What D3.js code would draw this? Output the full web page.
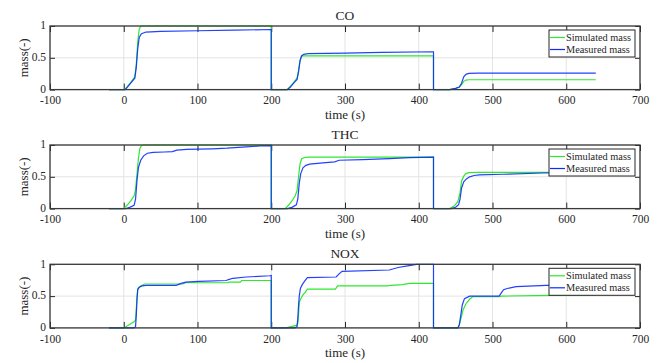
<!DOCTYPE html>
<html><head><meta charset="utf-8">
<script src="https://cdn.jsdelivr.net/npm/d3@7"></script>
<style>body{margin:0;background:#fff}svg{display:block}</style>
</head><body><svg id="c" width="660" height="363"></svg>
<script>
const titles = ["CO", "THC", "NOX"];
const seriesNames = ["Simulated mass", "Measured mass"];
const xTicks = [-100, 0, 100, 200, 300, 400, 500, 600, 700];
const yTicks = [0, 0.5, 1];
const xLabel = "time (s)";
const yLabel = "mass(-)";

const coSimulated = [[-20,0],[1,0],[5,0.05],[10,0.12],[15,0.2],[17,0.4],[19,0.75],[21,0.95],[23,0.995],[25,1],[200,1],[200,0],[221,0],[226,0.05],[231,0.12],[235,0.18],[237,0.3],[239,0.45],[241,0.52],[243,0.53],[420,0.53],[420,0],[442,0],[450,0.02],[455,0.04],[458,0.08],[461,0.13],[464,0.15],[468,0.155],[640,0.155]];
const coMeasured = [[-20,0],[2,0],[5,0.04],[10,0.11],[15,0.18],[17,0.35],[19,0.65],[21,0.82],[24,0.88],[30,0.905],[50,0.915],[100,0.925],[150,0.935],[200,0.945],[200,0],[222,0],[226,0.04],[231,0.11],[235,0.16],[237,0.28],[239,0.45],[241,0.53],[244,0.555],[250,0.565],[300,0.575],[350,0.585],[420,0.595],[420,0],[442,0],[450,0.02],[455,0.04],[458,0.1],[461,0.2],[464,0.24],[468,0.255],[480,0.26],[640,0.26]];
const thcSimulated = [[-20,0],[0,0],[5,0.06],[10,0.13],[14,0.2],[16,0.3],[18,0.55],[20,0.8],[22,0.95],[24,0.99],[27,1],[200,1],[200,0],[219,0],[224,0.06],[228,0.12],[232,0.19],[235,0.28],[237,0.5],[239,0.7],[241,0.78],[244,0.8],[250,0.81],[420,0.81],[420,0],[442,0],[448,0.04],[453,0.11],[456,0.25],[458,0.43],[461,0.51],[464,0.55],[468,0.565],[480,0.57],[640,0.57]];
const thcMeasured = [[-20,0],[3,0],[8,0.02],[14,0.05],[16,0.15],[18,0.45],[20,0.65],[23,0.76],[27,0.83],[32,0.87],[40,0.885],[55,0.89],[66,0.895],[72,0.92],[85,0.93],[100,0.935],[120,0.94],[140,0.95],[166,0.97],[185,0.985],[200,0.99],[200,0],[222,0],[228,0.02],[234,0.06],[236,0.15],[238,0.4],[240,0.55],[243,0.64],[247,0.68],[252,0.7],[270,0.72],[286,0.735],[292,0.76],[324,0.77],[360,0.785],[387,0.8],[420,0.81],[420,0],[444,0],[450,0.02],[454,0.06],[456,0.15],[458,0.32],[461,0.42],[465,0.47],[469,0.5],[475,0.52],[482,0.53],[514,0.54],[568,0.56],[640,0.57]];
const noxSimulated = [[-20,0],[0,0],[14,0.095],[16,0.12],[17,0.3],[18,0.5],[19,0.62],[23,0.66],[28,0.69],[80,0.69],[84,0.71],[141,0.71],[143,0.72],[158,0.72],[160,0.745],[200,0.745],[200,0],[220,0],[234,0.04],[236,0.07],[237,0.2],[238,0.4],[240,0.46],[243,0.52],[246,0.56],[249,0.61],[287,0.61],[290,0.66],[358,0.66],[362,0.67],[378,0.68],[387,0.7],[420,0.7],[420,0],[453,0],[455,0.05],[458,0.18],[460,0.28],[464,0.38],[469,0.45],[473,0.49],[508,0.49],[512,0.5],[578,0.51],[640,0.52]];
const noxMeasured = [[-20,0],[14,0],[16,0.02],[17,0.2],[18,0.45],[19,0.6],[21,0.64],[25,0.66],[30,0.67],[71,0.67],[78,0.7],[84,0.72],[102,0.73],[139,0.745],[142,0.76],[148,0.78],[166,0.8],[198,0.82],[200,0.825],[200,0],[232,0],[235,0.02],[236,0.15],[237,0.35],[238,0.5],[239.5,0.62],[242,0.68],[245,0.73],[249,0.79],[288,0.8],[292,0.85],[296,0.89],[360,0.91],[366,0.93],[372,0.95],[387,0.98],[397,1.0],[420,1.0],[420,0],[453,0],[455,0.05],[457,0.2],[459,0.36],[462,0.46],[469,0.5],[509,0.5],[512,0.55],[515,0.6],[520,0.62],[532,0.65],[573,0.67],[640,0.68]];

const panels = [
  {title: titles[0], sim: coSimulated, meas: coMeasured},
  {title: titles[1], sim: thcSimulated, meas: thcMeasured},
  {title: titles[2], sim: noxSimulated, meas: noxMeasured}
];
const colors = ["#2ee82e", "#0a2cff"];
const FONT = "'Liberation Serif', serif";
const tops = [26, 145, 264.3];
const H = 63.6, L = 50, R = 640;

const svg = d3.select("#c");
const x = d3.scaleLinear().domain([-100, 700]).range([L, R]);

panels.forEach((p, i) => {
  const top = tops[i], bot = top + H;
  const y = d3.scaleLinear().domain([0, 1]).range([bot, top]);
  const g = svg.append("g");
  g.append("g").selectAll("line").data(xTicks).join("line")
    .attr("x1", d => x(d)).attr("x2", d => x(d)).attr("y1", top).attr("y2", bot)
    .attr("stroke", "#e3e3e3").attr("stroke-width", 1);
  g.append("g").selectAll("line").data(yTicks).join("line")
    .attr("x1", L).attr("x2", R).attr("y1", d => y(d)).attr("y2", d => y(d))
    .attr("stroke", "#e3e3e3").attr("stroke-width", 1);
  const xb = d3.axisBottom(x).tickValues(xTicks).tickSize(-6).tickPadding(6.5).tickFormat(d => String(d));
  const xt = d3.axisTop(x).tickValues(xTicks).tickSize(-6).tickFormat("");
  const yl = d3.axisLeft(y).tickValues(yTicks).tickSize(-5).tickPadding(4).tickFormat(d => String(d));
  const yr = d3.axisRight(y).tickValues(yTicks).tickSize(-5).tickFormat("");
  [[xb, `translate(0,${bot})`], [xt, `translate(0,${top})`], [yl, `translate(${L},0)`], [yr, `translate(${R},0)`]].forEach(([ax, tr], k) => {
    const a = g.append("g").attr("transform", tr).call(ax).attr("font-family", FONT).attr("font-size", 11.5);
    a.select(".domain").remove();
    a.selectAll(".tick line").attr("stroke", "#262626").attr("stroke-width", 1);
    a.selectAll(".tick text").style("font-family", FONT).attr("font-size", 11.5).attr("fill", "#262626");
    if (k === 2) a.selectAll(".tick text").attr("dy", "0.25em");
  });
  const line = d3.line().x(d => x(d[0])).y(d => y(d[1]));
  g.append("path").datum(p.sim).attr("d", line).attr("fill", "none").attr("stroke", colors[0]).attr("stroke-width", 1.2);
  g.append("path").datum(p.meas).attr("d", line).attr("fill", "none").attr("stroke", colors[1]).attr("stroke-width", 1.2).attr("stroke-opacity", 0.9);
  g.append("rect").attr("x", L).attr("y", top).attr("width", R - L).attr("height", H)
    .attr("fill", "none").attr("stroke", "#3a3a3a").attr("stroke-width", 1.3);
  const txt = (sel) => sel.style("font-family", FONT).attr("fill", "#262626");
  txt(g.append("text").attr("x", (L + R) / 2).attr("y", top - 6.5).attr("text-anchor", "middle").attr("font-size", 13.5).text(p.title));
  txt(g.append("text").attr("x", (L + R) / 2).attr("y", bot + 29).attr("text-anchor", "middle").attr("font-size", 13).text(xLabel));
  txt(g.append("text").attr("transform", `translate(28,${(top + bot) / 2}) rotate(-90)`).attr("text-anchor", "middle").attr("font-size", 13).text(yLabel));
  const lg = g.append("g").attr("transform", `translate(549,${top + 4})`);
  lg.append("rect").attr("width", 86).attr("height", 27).attr("fill", "#fff").attr("stroke", "#262626").attr("stroke-width", 1);
  seriesNames.forEach((n, k) => {
    const yy = 7.5 + k * 12;
    lg.append("line").attr("x1", 1).attr("x2", 16).attr("y1", yy).attr("y2", yy).attr("stroke", colors[k]).attr("stroke-width", 1.2);
    txt(lg.append("text").attr("x", 17).attr("y", yy + 3.5).attr("font-size", 10.3).text(n));
  });
});
</script></body></html>
